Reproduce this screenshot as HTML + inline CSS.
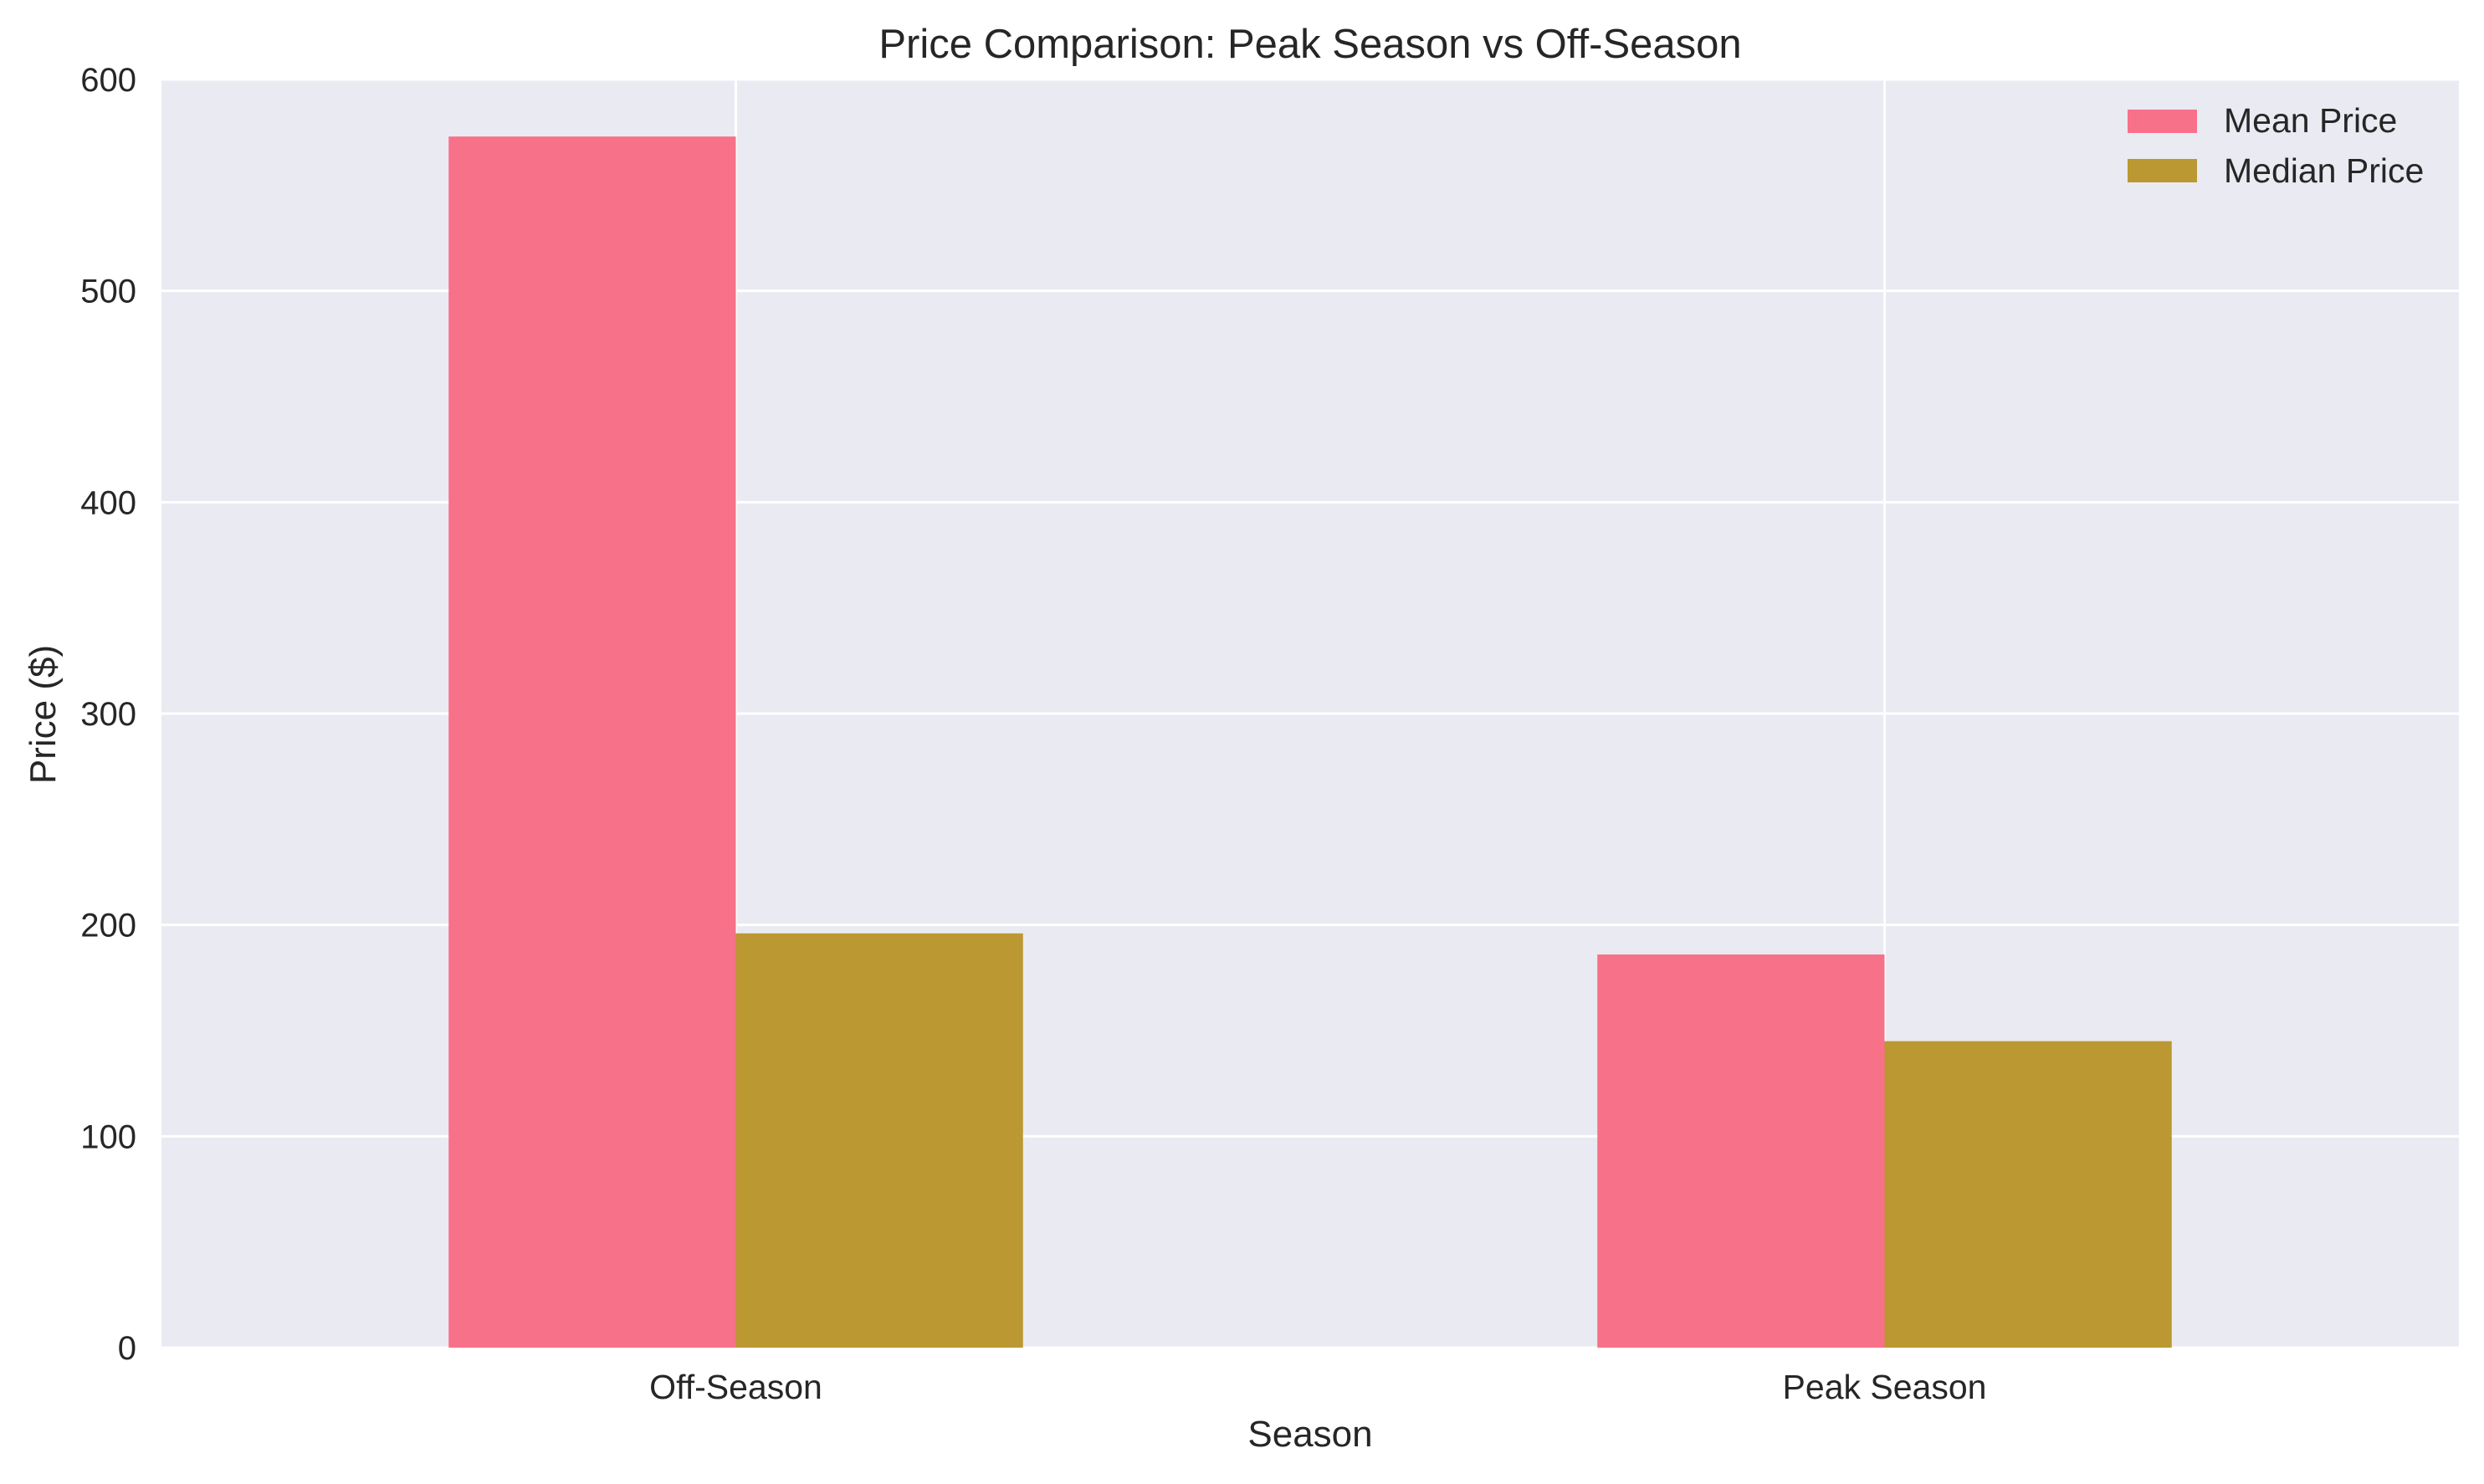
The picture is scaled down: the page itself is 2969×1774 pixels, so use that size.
<!DOCTYPE html>
<html><head><meta charset="utf-8"><style>
body{margin:0;background:#fff;}
svg text{font-family:"Liberation Sans",sans-serif;fill:#262626;}
</style></head><body>
<svg id="chart" width="2969" height="1769" xmlns="http://www.w3.org/2000/svg">
<rect x="193" y="95" width="2746" height="1516" fill="#eaeaf2"/>
<g id="grid"></g><g id="bars"></g><g id="axes"></g>
<text x="1566" y="69" font-size="49" text-anchor="middle">Price Comparison: Peak Season vs Off-Season</text>
<text x="1566" y="1729" font-size="44" text-anchor="middle">Season</text>
<text transform="translate(66,854) rotate(-90)" font-size="44" text-anchor="middle">Price ($)</text>
<g>
<rect x="2543" y="131" width="83" height="28" fill="#f77189"/>
<text x="2658" y="158" font-size="41">Mean Price</text>
<rect x="2543" y="190" width="83" height="28" fill="#bb9832"/>
<text x="2658" y="218" font-size="41">Median Price</text>
</g>
</svg>
<script>
const categories=["Off-Season","Peak Season"];
const meanPrice=[573,186];
const medianPrice=[196,145];
const yTicks=[0,100,200,300,400,500,600];
const L=193,R=2939,T=95,B=1611,ns="http://www.w3.org/2000/svg";
const xs=v=>L+(v+0.5)/2*(R-L);
const ys=v=>B-v/600*(B-T);
function mk(tag,attrs,parent,txt){const e=document.createElementNS(ns,tag);for(const k in attrs)e.setAttribute(k,attrs[k]);if(txt!==undefined)e.textContent=txt;document.getElementById(parent).appendChild(e);return e;}
yTicks.forEach(t=>{
 const g=mk('line',{x1:L,x2:R,y1:ys(t),y2:ys(t),stroke:'#fff','stroke-width':3},'grid');
 
 
 const l=mk('text',{x:L-30,y:ys(t)+14,'font-size':40,'text-anchor':'end'},'axes',t);
 
 
});
categories.forEach((c,i)=>{
 const g=mk('line',{x1:xs(i),x2:xs(i),y1:T,y2:B,stroke:'#fff','stroke-width':3},'grid');
 
 
 const l=mk('text',{x:xs(i),y:1672,'font-size':41,'text-anchor':'middle'},'axes',c);
 
 
 const w=xs(0.25)-xs(0);
 const b1=mk('rect',{x:xs(i)-w,y:ys(meanPrice[i]),width:w,height:B-ys(meanPrice[i]),fill:'#f77189'},'bars');
 
 
 const b2=mk('rect',{x:xs(i),y:ys(medianPrice[i]),width:w,height:B-ys(medianPrice[i]),fill:'#bb9832'},'bars');
 
 
});
</script>
</body></html>
